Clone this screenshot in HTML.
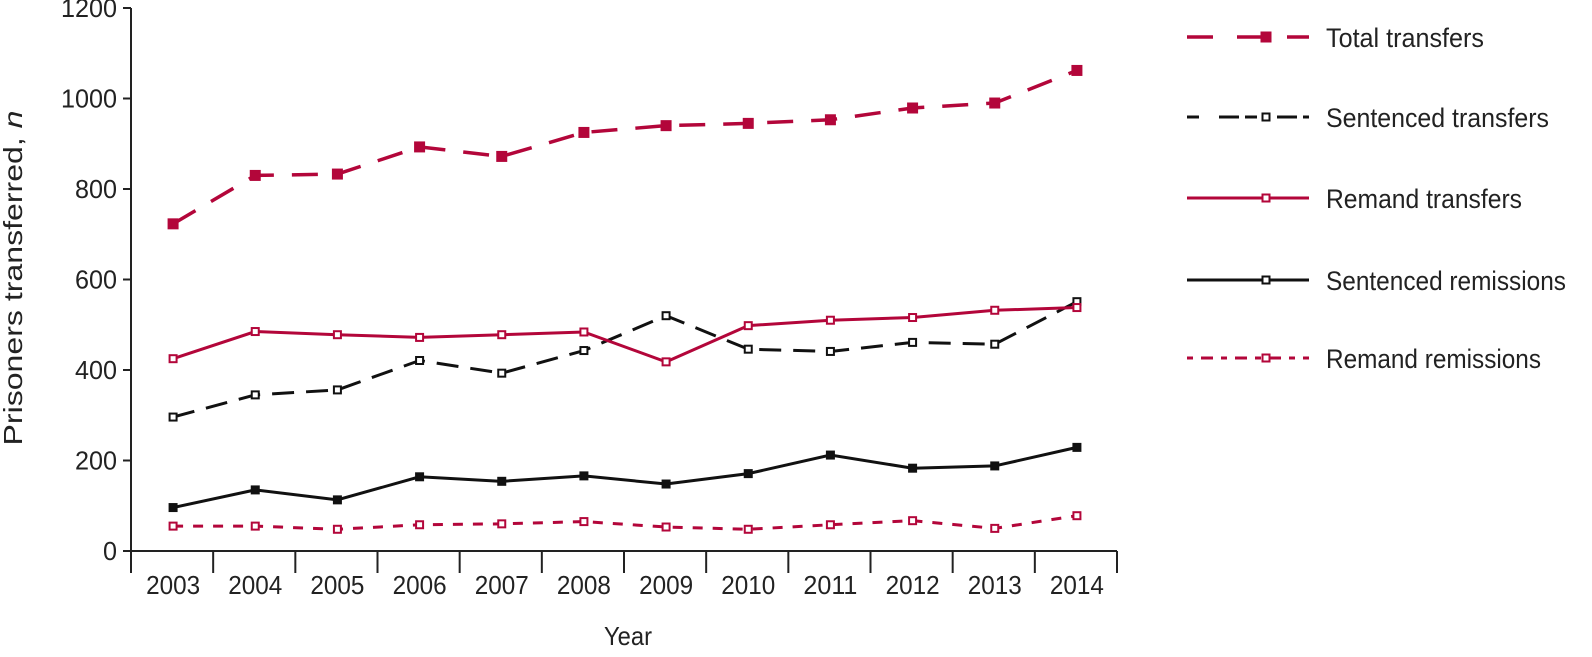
<!DOCTYPE html>
<html><head><meta charset="utf-8"><style>
html,body{margin:0;padding:0;background:#fff;overflow:hidden;width:1592px;height:657px;}
svg{display:block;font-family:"Liberation Sans Narrow","Liberation Sans",sans-serif;}
</style></head><body>
<svg id="chart" width="1592" height="657" viewBox="0 0 1592 657" xmlns="http://www.w3.org/2000/svg" overflow="hidden"></svg>
<script>
const years=["2003","2004","2005","2006","2007","2008","2009","2010","2011","2012","2013","2014"];
const totalTransfers=[723,830,833,893,872,925,940,945,953,979,990,1062];
const sentencedTransfers=[296,345,356,421,393,443,520,446,441,461,457,551];
const remandTransfers=[425,485,478,472,478,484,418,498,510,516,532,538];
const sentencedRemissions=[96,135,113,164,154,166,148,171,212,183,188,229];
const remandRemissions=[55,55,48,58,60,65,53,48,58,67,50,78];
const yTicks=[0,200,400,600,800,1000,1200];
const seriesNames=["Total transfers","Sentenced transfers","Remand transfers","Sentenced remissions","Remand remissions"];

const svg=document.getElementById('chart');
const NS="http://www.w3.org/2000/svg";
const RED="#b3063a";
const X0=131,X1=1117,Y0=551,Y1=8;
const step=(X1-X0)/years.length;
function xs(i){return X0+step*(i+0.5)+1;}
function ys(v){return Y0-(v/1200)*(Y0-Y1);}
function mk(tag,attrs,parent){const e=document.createElementNS(NS,tag);for(const k in attrs)e.setAttribute(k,attrs[k]);(parent||svg).appendChild(e);return e;}

const ax=mk('g',{});


mk('line',{x1:X0,y1:Y1,x2:X0,y2:Y0,stroke:'#222','stroke-width':2},ax);
mk('line',{x1:X0,y1:Y0,x2:X1,y2:Y0,stroke:'#222','stroke-width':2},ax);
yTicks.forEach(t=>{
  const y=ys(t);
  mk('line',{x1:X0-8,y1:y,x2:X0,y2:y,stroke:'#222','stroke-width':2},ax);
  const tx=mk('text',{x:X0-14,y:y+9,'text-anchor':'end','font-size':26,fill:'#222',textLength:String(t).length*14,lengthAdjust:'spacingAndGlyphs'},ax);
  tx.textContent=t;
  
  
});
for(let i=0;i<=years.length;i++){
  const x=X0+step*i;
  mk('line',{x1:x,y1:Y0,x2:x,y2:Y0+22,stroke:'#222','stroke-width':2},ax);
}
years.forEach((yr,i)=>{
  const tx=mk('text',{x:xs(i),y:594,'text-anchor':'middle','font-size':26,fill:'#222',textLength:54,lengthAdjust:'spacingAndGlyphs'},ax);
  tx.textContent=yr;
  
  
});
const xt=mk('text',{x:628,y:645,'text-anchor':'middle','font-size':26,fill:'#222',textLength:48,lengthAdjust:'spacingAndGlyphs'});
xt.textContent="Year";


const yt=mk('text',{x:0,y:0,'text-anchor':'middle','font-size':26,fill:'#222',transform:'translate(22,278) rotate(-90)',textLength:335,lengthAdjust:'spacingAndGlyphs'});
yt.innerHTML='Prisoners transferred, <tspan font-style="italic">n</tspan>';



const styles=[
 {data:totalTransfers,color:RED,dash:'26 18',fill:RED,w:3.5},
 {data:sentencedTransfers,color:'#111',dash:'22 12',fill:'#fff',w:3},
 {data:remandTransfers,color:RED,dash:'',fill:'#fff',w:3},
 {data:sentencedRemissions,color:'#111',dash:'',fill:'#111',w:3},
 {data:remandRemissions,color:RED,dash:'10 10',fill:'#fff',w:3}
];
const names=['series-total-transfers','series-sentenced-transfers','series-remand-transfers','series-sentenced-remissions','series-remand-remissions'];
styles.forEach((s,k)=>{
  const g=mk('g',{});
  
  
  const pts=s.data.map((v,i)=>xs(i)+','+ys(v)).join(' ');
  const pl=mk('polyline',{points:pts,fill:'none',stroke:s.color,'stroke-width':s.w,'stroke-dasharray':s.dash},g);
  
  
  s.data.forEach((v,i)=>{
    const sz=k===0?9:7;
    const r=mk('rect',{x:xs(i)-sz/2,y:ys(v)-sz/2,width:sz,height:sz,fill:s.fill,stroke:s.color,'stroke-width':2},g);
    
    
  });
});

const legY=[37,117,198,280,358];
const legW=[158,223,196,240,215];
const lg=mk('g',{});


styles.forEach((s,k)=>{
  const g=mk('g',{},lg);
  
  
  const y=legY[k];
  mk('line',{x1:1187,y1:y,x2:1309,y2:y,stroke:s.color,'stroke-width':s.w,'stroke-dasharray':k===0?'26 24':(k===1?'12 20 20 6':(k===4?'6 8 12 8':''))},g);
  const sz=k===0?9:7;
  mk('rect',{x:1266-sz/2,y:y-sz/2,width:sz,height:sz,fill:k===0?RED:'#fff',stroke:s.color,'stroke-width':2},g);
  const t=mk('text',{x:1326,y:y+10,'font-size':27,fill:'#222',textLength:legW[k],lengthAdjust:'spacingAndGlyphs'},g);
  t.textContent=seriesNames[k];
});
</script>
</body></html>
